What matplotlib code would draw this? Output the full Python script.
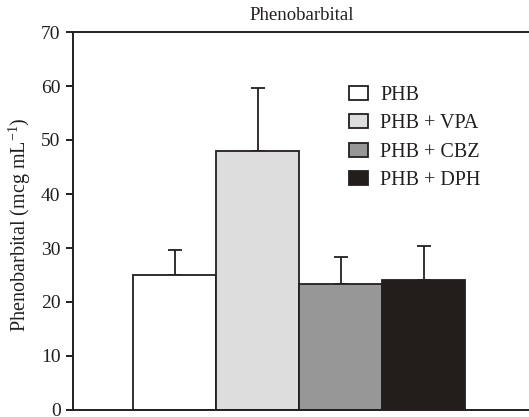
import matplotlib
matplotlib.use('Agg')
import matplotlib.pyplot as plt
from matplotlib.patches import Patch
import numpy as np

# Data
groups = ['PHB', 'PHB + VPA', 'PHB + CBZ', 'PHB + DPH']
means = [25.0, 48.0, 23.3, 24.1]
errors = [4.6, 11.7, 5.1, 6.3]  # upper SD only
colors = ['#ffffff', '#dddddd', '#979797', '#221e1c']

INK = '#231f20'
plt.rcParams['font.family'] = ['Liberation Serif', 'DejaVu Serif']
plt.rcParams['mathtext.default'] = 'regular'
plt.rcParams['text.color'] = INK

fig = plt.figure(figsize=(5.29, 4.17), dpi=100)
ax = fig.add_axes([73 / 529, 1 - 410 / 417, 1 - 73 / 529, (410 - 32) / 417])

x = np.arange(len(groups))
ax.bar(x, means, width=1.0, color=colors, edgecolor=INK, linewidth=1.3, zorder=2)
ax.errorbar(x, means, yerr=[np.zeros(len(errors)), errors], fmt='none',
            ecolor=INK, elinewidth=1.3, capsize=5.2, capthick=1.3, zorder=1)

ax.set_xlim(-0.5 - 60 / 83, -0.5 + (529 - 133) / 83)
ax.set_ylim(0, 70)
ax.set_yticks(range(0, 71, 10))
ax.set_xticks([])
ax.tick_params(axis='y', direction='out', length=5, width=1.4, pad=4,
               labelsize=14, colors=INK)
for s in ['left', 'top', 'bottom']:
    ax.spines[s].set_linewidth(1.4)
    ax.spines[s].set_color(INK)
ax.spines['right'].set_visible(False)

fig.text(302 / 529, 1 - 15 / 417, 'Phenobarbital', ha='center', va='center',
         fontsize=13.5)
fig.text(20 / 529, 1 - 225 / 417, 'Phenobarbital (mcg mL$^{-1}$)', rotation=90,
         ha='center', va='center', fontsize=14.5)

handles = [Patch(facecolor=c, edgecolor=INK, linewidth=1.3) for c in colors]
ax.legend(handles, groups, loc='upper left', bbox_to_anchor=(349 / 529, 1 - 86 / 417),
          bbox_transform=fig.transFigure, frameon=False, fontsize=14.5,
          handlelength=0.95, handleheight=0.7, handletextpad=0.6,
          labelspacing=0.46, borderpad=0, borderaxespad=0)

fig.savefig('out.png', dpi=100)
